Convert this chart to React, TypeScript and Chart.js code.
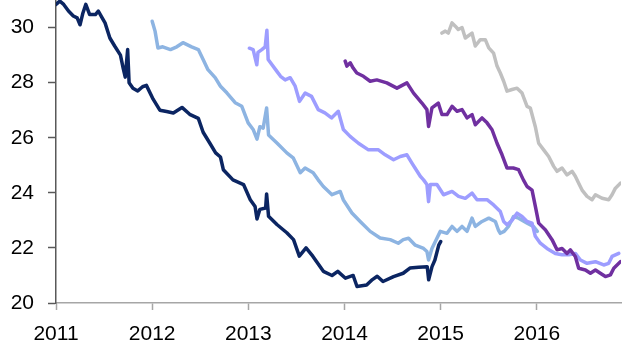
import React, { useEffect, useRef } from "react";
import { Chart, registerables } from "chart.js";

Chart.register(...registerables);

const xTickYears = [2011, 2012, 2013, 2014, 2015, 2016];
const yTickValues = [20, 22, 24, 26, 28, 30];

const navyYears = [2011.0, 2011.04, 2011.08, 2011.13, 2011.18, 2011.22, 2011.25, 2011.28, 2011.31, 2011.35, 2011.41, 2011.44, 2011.48, 2011.51, 2011.56, 2011.61, 2011.67, 2011.7, 2011.72, 2011.745, 2011.76, 2011.8, 2011.85, 2011.9, 2011.94, 2012.01, 2012.08, 2012.15, 2012.22, 2012.31, 2012.39, 2012.48, 2012.53, 2012.6, 2012.66, 2012.71, 2012.74, 2012.84, 2012.95, 2013.02, 2013.07, 2013.09, 2013.12, 2013.18, 2013.19, 2013.21, 2013.3, 2013.4, 2013.47, 2013.53, 2013.6, 2013.67, 2013.78, 2013.87, 2013.93, 2014.01, 2014.09, 2014.13, 2014.23, 2014.29, 2014.34, 2014.4, 2014.51, 2014.61, 2014.68, 2014.77, 2014.86, 2014.875, 2014.91, 2014.94, 2014.98, 2015.0];
const navyValues = [30.84, 30.96, 30.84, 30.6, 30.42, 30.35, 30.1, 30.53, 30.84, 30.47, 30.47, 30.6, 30.35, 30.17, 29.62, 29.33, 29.0, 28.5, 28.2, 29.2, 28.0, 27.8, 27.7, 27.85, 27.9, 27.4, 27.0, 26.95, 26.9, 27.1, 26.85, 26.7, 26.2, 25.8, 25.45, 25.3, 24.84, 24.47, 24.3, 23.75, 23.5, 23.05, 23.4, 23.45, 23.96, 23.15, 22.84, 22.55, 22.3, 21.7, 22.0, 21.7, 21.15, 21.0, 21.15, 20.9, 21.0, 20.6, 20.65, 20.85, 20.97, 20.78, 20.96, 21.08, 21.27, 21.3, 21.32, 20.84, 21.32, 21.56, 22.1, 22.23];

const lightBlueYears = [2012.0, 2012.03, 2012.06, 2012.11, 2012.19, 2012.256, 2012.32, 2012.41, 2012.48, 2012.53, 2012.58, 2012.655, 2012.71, 2012.776, 2012.863, 2012.932, 2012.998, 2013.05, 2013.09, 2013.12, 2013.154, 2013.19, 2013.21, 2013.3, 2013.4, 2013.466, 2013.54, 2013.59, 2013.674, 2013.726, 2013.78, 2013.87, 2013.955, 2013.987, 2014.077, 2014.163, 2014.267, 2014.37, 2014.475, 2014.559, 2014.611, 2014.666, 2014.736, 2014.822, 2014.857, 2014.874, 2014.909, 2014.961, 2014.996, 2015.066, 2015.118, 2015.17, 2015.222, 2015.274, 2015.326, 2015.36, 2015.43, 2015.5, 2015.568, 2015.6, 2015.62, 2015.66, 2015.705, 2015.757, 2015.81, 2015.9, 2015.964, 2016.005];
const lightBlueValues = [30.23, 29.87, 29.26, 29.3, 29.2, 29.3, 29.45, 29.3, 29.2, 28.84, 28.47, 28.18, 27.87, 27.63, 27.27, 27.14, 26.54, 26.3, 25.95, 26.4, 26.35, 27.08, 26.1, 25.8, 25.45, 25.27, 24.73, 24.9, 24.73, 24.47, 24.23, 23.93, 24.05, 23.75, 23.27, 22.96, 22.6, 22.36, 22.3, 22.17, 22.3, 22.35, 22.1, 21.98, 21.87, 21.56, 21.98, 22.35, 22.6, 22.53, 22.78, 22.6, 22.78, 22.6, 23.08, 22.78, 22.96, 23.08, 22.96, 22.65, 22.53, 22.6, 22.78, 23.14, 23.08, 22.9, 22.78, 22.6];

const lavenderYears = [2013.011, 2013.05, 2013.088, 2013.1, 2013.14, 2013.175, 2013.193, 2013.206, 2013.297, 2013.335, 2013.383, 2013.435, 2013.487, 2013.532, 2013.591, 2013.657, 2013.727, 2013.796, 2013.865, 2013.935, 2013.988, 2014.058, 2014.145, 2014.249, 2014.353, 2014.423, 2014.51, 2014.58, 2014.649, 2014.701, 2014.788, 2014.822, 2014.857, 2014.874, 2014.892, 2014.961, 2015.03, 2015.118, 2015.186, 2015.256, 2015.326, 2015.378, 2015.482, 2015.55, 2015.62, 2015.655, 2015.69, 2015.742, 2015.794, 2015.846, 2015.898, 2015.95, 2015.984, 2016.036, 2016.105, 2016.192, 2016.262, 2016.331, 2016.4, 2016.453, 2016.522, 2016.609, 2016.695, 2016.747, 2016.782, 2016.852];
const lavenderValues = [29.25, 29.2, 28.65, 29.1, 29.2, 29.3, 29.9, 28.84, 28.41, 28.23, 28.1, 28.18, 27.87, 27.32, 27.62, 27.5, 27.02, 26.9, 26.72, 26.96, 26.3, 26.05, 25.8, 25.56, 25.56, 25.38, 25.2, 25.32, 25.38, 25.08, 24.6, 24.47, 24.3, 23.68, 24.3, 24.3, 23.93, 24.05, 23.87, 23.8, 23.99, 23.75, 23.75, 23.56, 23.32, 22.96, 22.84, 23.0, 23.26, 23.14, 22.96, 22.9, 22.42, 22.17, 21.98, 21.8, 21.75, 21.75, 21.8, 21.56, 21.44, 21.5, 21.38, 21.44, 21.69, 21.8];

const purpleYears = [2014.007, 2014.025, 2014.06, 2014.09, 2014.128, 2014.197, 2014.267, 2014.336, 2014.44, 2014.545, 2014.649, 2014.718, 2014.805, 2014.857, 2014.874, 2014.909, 2014.975, 2015.013, 2015.066, 2015.118, 2015.17, 2015.222, 2015.274, 2015.326, 2015.36, 2015.43, 2015.482, 2015.534, 2015.586, 2015.638, 2015.69, 2015.755, 2015.81, 2015.86, 2015.898, 2015.95, 2015.985, 2016.019, 2016.09, 2016.158, 2016.21, 2016.262, 2016.314, 2016.348, 2016.4, 2016.435, 2016.505, 2016.557, 2016.609, 2016.66, 2016.713, 2016.765, 2016.8, 2016.869];
const purpleValues = [28.78, 28.6, 28.72, 28.53, 28.35, 28.23, 28.05, 28.1, 27.99, 27.8, 27.99, 27.62, 27.26, 27.02, 26.41, 27.08, 27.26, 26.84, 26.84, 27.14, 26.96, 27.02, 26.72, 26.84, 26.47, 26.72, 26.54, 26.29, 25.8, 25.38, 24.9, 24.9, 24.84, 24.47, 24.23, 24.1, 23.5, 22.9, 22.65, 22.3, 21.93, 21.98, 21.8, 21.93, 21.69, 21.26, 21.2, 21.08, 21.2, 21.08, 20.96, 21.02, 21.26, 21.5];

const greyYears = [2015.013, 2015.048, 2015.079, 2015.118, 2015.152, 2015.183, 2015.222, 2015.256, 2015.326, 2015.36, 2015.412, 2015.464, 2015.5, 2015.55, 2015.586, 2015.62, 2015.655, 2015.69, 2015.742, 2015.794, 2015.846, 2015.898, 2015.932, 2015.984, 2016.019, 2016.071, 2016.123, 2016.175, 2016.21, 2016.262, 2016.314, 2016.366, 2016.4, 2016.435, 2016.47, 2016.522, 2016.574, 2016.609, 2016.678, 2016.747, 2016.782, 2016.817, 2016.869];
const greyValues = [29.8, 29.87, 29.8, 30.17, 30.05, 29.93, 30.0, 29.62, 29.8, 29.33, 29.56, 29.56, 29.26, 29.07, 28.6, 28.35, 28.05, 27.69, 27.75, 27.8, 27.62, 27.14, 27.08, 26.4, 25.8, 25.56, 25.32, 24.96, 24.78, 24.9, 24.65, 24.78, 24.6, 24.35, 24.1, 23.87, 23.75, 23.93, 23.8, 23.75, 23.93, 24.17, 24.35];

const toPoints = (xs: number[], ys: number[]) => xs.map((x, i) => ({ x, y: ys[i] }));

const FONT = { family: "'Liberation Sans', Arial, sans-serif", size: 21 };

export default function App() {
  const canvasRef = useRef<HTMLCanvasElement | null>(null);

  useEffect(() => {
    if (!canvasRef.current) return;
    const mk = (label: string, xs: number[], ys: number[], color: string, order: number) => ({
      label,
      data: toPoints(xs, ys),
      borderColor: color,
      backgroundColor: color,
      borderWidth: 3.5,
      pointRadius: 0,
      tension: 0,
      fill: false,
      borderJoinStyle: "round" as const,
      borderCapStyle: "round" as const,
      order,
    });
    const chart = new Chart(canvasRef.current, {
      type: "line",
      data: {
        datasets: [
          mk("2011", navyYears, navyValues, "#0b2562", 0),
          mk("2012", lightBlueYears, lightBlueValues, "#8db4e2", 3),
          mk("2013", lavenderYears, lavenderValues, "#9d9dff", 2),
          mk("2014", purpleYears, purpleValues, "#7030a0", 1),
          mk("2015", greyYears, greyValues, "#c0c0c0", 4),
        ],
      },
      options: {
        animation: false,
        responsive: true,
        maintainAspectRatio: false,
        layout: { padding: { top: 0, right: 19, left: 0, bottom: 0 } },
        plugins: { legend: { display: false }, tooltip: { enabled: false } },
        scales: {
          x: {
            type: "linear",
            min: 2011,
            max: 2016.875,
            afterBuildTicks: (scale: any) => {
              scale.ticks = xTickYears.map((v) => ({ value: v }));
            },
            ticks: {
              font: FONT,
              color: "#000",
              padding: 12,
              maxRotation: 0,
              autoSkip: false,
              callback: (v: any) => String(v),
            },
            grid: { drawOnChartArea: false, drawTicks: true, tickLength: 7, tickColor: "#a6a6a6", tickWidth: 1.5 },
            border: { color: "#a6a6a6", width: 1.5 },
            afterFit: (scale: any) => {
              scale.height = 57;
              scale.paddingLeft = 0;
              scale.paddingRight = 0;
            },
          },
          y: {
            type: "linear",
            min: 20,
            max: 31,
            afterBuildTicks: (scale: any) => {
              scale.ticks = yTickValues.map((v) => ({ value: v }));
            },
            ticks: {
              font: FONT,
              color: "#000",
              padding: 14,
              callback: (v: any) => String(v),
            },
            grid: { drawOnChartArea: false, drawTicks: true, tickLength: 8, tickColor: "#595959", tickWidth: 1.5 },
            border: { color: "#595959", width: 1.5 },
            afterFit: (scale: any) => {
              scale.width = 56;
              scale.paddingTop = 0;
              scale.paddingBottom = 0;
            },
          },
        },
      },
    } as any);
    return () => chart.destroy();
  }, []);

  return (
    <div style={{ position: "absolute", left: 0, top: 0, width: 640, height: 360, background: "#fff" }}>
      <canvas ref={canvasRef} />
    </div>
  );
}
